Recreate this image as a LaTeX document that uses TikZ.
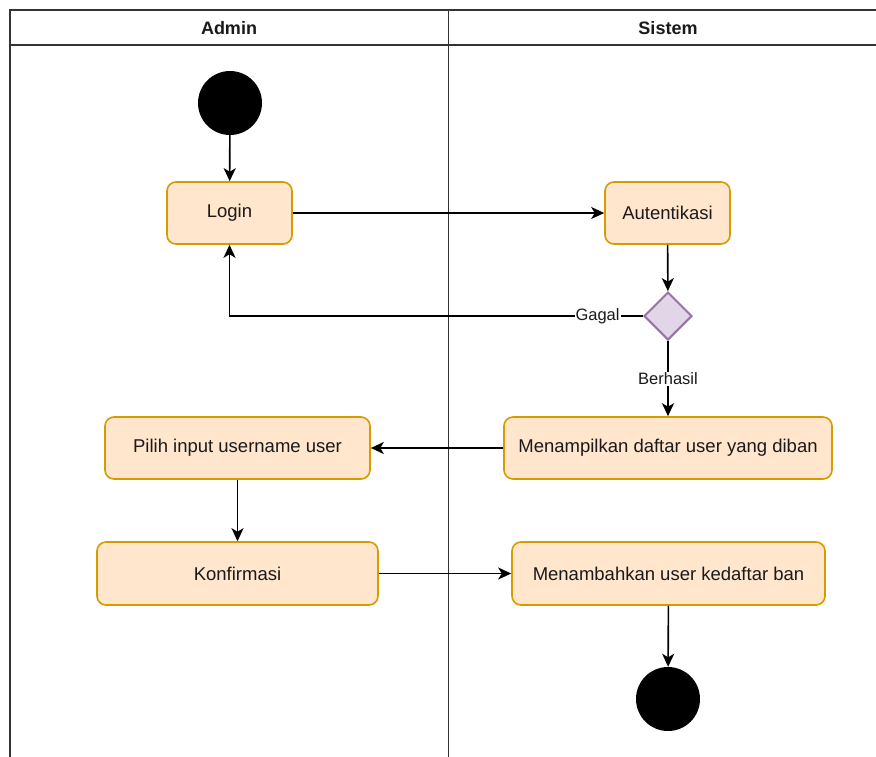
\documentclass[tikz,border=0pt]{standalone}
\usepackage{fontspec}
\setmainfont{Liberation Sans}
\usetikzlibrary{arrows.meta,shapes.geometric}
\definecolor{actfill}{HTML}{FFE6CC}
\definecolor{actline}{HTML}{D79B00}
\definecolor{decfill}{HTML}{E1D5E7}
\definecolor{decline}{HTML}{9673A6}
\definecolor{txt}{HTML}{1A1A1A}
\definecolor{lane}{HTML}{333333}
\tikzset{
  actbox/.style={rectangle, rounded corners=9pt, draw=actline, fill=actfill,
    line width=1.6pt, text=txt, font=\fontsize{18.5}{22}\selectfont,
    inner sep=0pt, anchor=center},
  decision/.style={diamond, draw=decline, fill=decfill, line width=2pt,
    minimum width=48pt, minimum height=48pt, inner sep=0pt, aspect=1},
  terminal/.style={circle, fill=black, draw=none, minimum size=64pt, inner sep=0pt},
  flow/.style={line width=1.6pt, draw=black, -{Stealth[length=13pt,width=12pt,inset=3.5pt]}},
  lbl/.style={fill=white, inner sep=1pt, text=txt, font=\fontsize{16.5}{19}\selectfont},
  lanehead/.style={font=\bfseries\fontsize{18}{21}\selectfont, text=txt},
}
\begin{document}
\begin{tikzpicture}[x=1pt,y=-1pt]
  \useasboundingbox (0,0) rectangle (876,756);
  \fill[white] (0,0) rectangle (876,756);

  % swimlane frame
  \begin{scope}
    \clip (0,0) rectangle (876,756);
    \draw[lane, line width=1.6pt] (10,770) -- (10,10) -- (890,10);
    \draw[lane, line width=1.4pt] (10,45) -- (890,45);
    \draw[lane, line width=1.4pt] (448.5,10) -- (448.5,770);
  \end{scope}
  \node[lanehead] (hadmin) at (229,28) {Admin};
  \node[lanehead] (hsistem) at (668,28) {Sistem};

  % activities
  \node[terminal] (start) at (230,103) {};
  \node[actbox, minimum width=125pt, minimum height=62pt] (login) at (229.5,213) {Login};
  \node[actbox, minimum width=125pt, minimum height=62pt] (auth) at (667.5,213) {Autentikasi};
  \node[decision] (dec) at (668,316) {};
  \node[actbox, minimum width=328pt, minimum height=62pt] (tampil) at (668,448) {Menampilkan daftar user yang diban};
  \node[actbox, minimum width=265pt, minimum height=62pt] (pilih) at (237.5,448) {Pilih input username user};
  \node[actbox, minimum width=281pt, minimum height=63pt] (konf) at (237.5,573.5) {Konfirmasi};
  \node[actbox, minimum width=313pt, minimum height=63pt] (tambah) at (668.5,573.5) {Menambahkan user kedaftar ban};
  \node[terminal] (end) at (668,699) {};

  % control flow
  \draw[flow] (start) -- (login);
  \draw[flow] (login) -- (auth);
  \draw[flow] (auth) -- (dec);
  \draw[flow] (dec.west) -- node[lbl, pos=0.11] {Gagal} (login.south |- dec.west) -- (login.south);
  \draw[flow] (dec.south) -- node[lbl] {Berhasil} (tampil.north);
  \draw[flow] (tampil) -- (pilih);
  \draw[flow] (pilih) -- (konf);
  \draw[flow] (konf) -- (tambah);
  \draw[flow] (tambah) -- (end);
\end{tikzpicture}
\end{document}
